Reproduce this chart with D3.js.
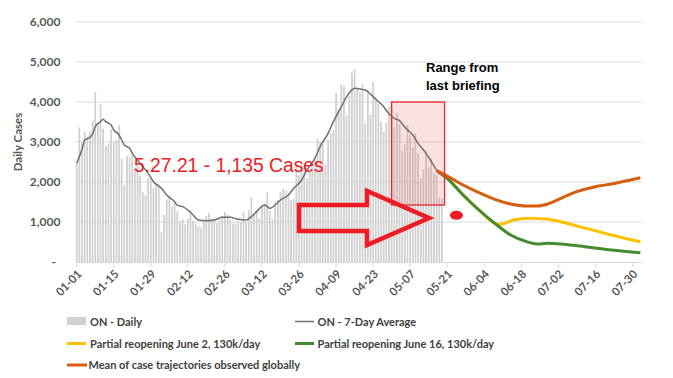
<!DOCTYPE html>
<html><head><meta charset="utf-8">
<script src="https://cdn.jsdelivr.net/npm/d3@7"></script>
<style>
html,body{margin:0;padding:0;background:#fff;}
svg{display:block;font-family:Lato,"Liberation Sans",sans-serif;}
</style></head>
<body>
<svg id="chart" width="673" height="378"></svg>
<script>
// ---------------- DATA ----------------
const startDate = "2021-01-01";
const dailyCases = [
 2476,3363,2964,3270,3128,3266,3519,4249,3443,3945,3338,2903,2961,3326,2998,3056,3422,2578,1913,2655,2632,2662,2359,2417,2154,1740,1670,2093,2063,1848,1969,
 1958,745,1172,1563,1670,1388,1489,1265,1022,1072,945,1076,1300,1041,964,904,847,1038,1150,1228,1087,1058,975,1054,1138,1258,1185,1062,
 966,958,1023,994,1250,990,1299,1631,1185,1316,1092,1371,1468,1747,1268,1074,1508,1553,1745,1829,1791,1699,1546,1571,2380,2169,2453,2448,2094,2336,2333,
 2557,3089,3009,2938,2448,3065,3215,3295,4227,3813,4456,4401,3670,4156,4736,4812,4362,4250,4447,3469,4212,3682,4505,4094,3947,3510,3265,3480,3871,3887,
 3369,3732,3436,2791,2941,3424,3166,2864,3216,2716,2073,2320,2759,2362,2584,2199,2170,1616,1588
];
// 7-day average
const avgDates = ["2021-01-01","2021-01-03","2021-01-04","2021-01-06","2021-01-07","2021-01-08","2021-01-10","2021-01-11","2021-01-12","2021-01-14","2021-01-15","2021-01-17","2021-01-18","2021-01-19","2021-01-21","2021-01-22","2021-01-24","2021-01-26","2021-01-28","2021-01-30","2021-02-02","2021-02-04","2021-02-07","2021-02-08","2021-02-10","2021-02-12","2021-02-14","2021-02-16","2021-02-19","2021-02-22","2021-02-25","2021-02-28","2021-03-03","2021-03-06","2021-03-08","2021-03-10","2021-03-13","2021-03-15","2021-03-17","2021-03-19","2021-03-22","2021-03-24","2021-03-27","2021-03-29","2021-04-01","2021-04-03","2021-04-06","2021-04-08","2021-04-11","2021-04-13","2021-04-16","2021-04-18","2021-04-20","2021-04-23","2021-04-25","2021-04-27","2021-04-28","2021-05-01","2021-05-03","2021-05-05","2021-05-08","2021-05-10","2021-05-13","2021-05-15","2021-05-17"];
const avgValues = [2467,2817,3050,3117,3200,3383,3508,3567,3508,3425,3300,3175,3050,2925,2842,2717,2550,2383,2217,2008,1842,1675,1508,1420,1383,1300,1175,1050,1030,1050,1117,1117,1067,1050,1133,1258,1425,1342,1425,1550,1675,1842,2050,2300,2592,2883,3217,3508,3883,4133,4342,4325,4300,4133,4008,3883,3783,3592,3533,3367,3175,2967,2717,2508,2290];
// projections
const meanDates = ["2021-05-17","2021-05-21","2021-05-27","2021-06-02","2021-06-08","2021-06-14","2021-06-20","2021-06-24","2021-06-28","2021-07-03","2021-07-09","2021-07-16","2021-07-22","2021-07-28","2021-08-02"];
const meanValues = [2283,2150,1925,1733,1567,1450,1400,1400,1450,1592,1758,1883,1950,2033,2108];
const june16Dates = ["2021-05-17","2021-05-21","2021-05-27","2021-06-02","2021-06-08","2021-06-14","2021-06-20","2021-06-24","2021-06-28","2021-07-04","2021-07-12","2021-07-22","2021-08-02"];
const june16Values = [2283,2092,1675,1300,967,675,508,450,467,442,383,300,233];
const june2Dates = ["2021-05-17","2021-05-21","2021-05-27","2021-06-02","2021-06-08","2021-06-10","2021-06-15","2021-06-21","2021-06-27","2021-07-03","2021-07-09","2021-07-16","2021-07-22","2021-08-02"];
const june2Values = [2283,2092,1675,1300,967,942,1050,1092,1075,1008,900,783,675,508];

const yTicks = [0,1000,2000,3000,4000,5000,6000];
const yTickLabels = ["-","1,000","2,000","3,000","4,000","5,000","6,000"];
const xTickLabels = ["01-01","01-15","01-29","02-12","02-26","03-12","03-26","04-09","04-23","05-07","05-21","06-04","06-18","07-02","07-16","07-30"];

const legendLabels = ["ON - Daily","ON - 7-Day Average","Partial reopening June 2, 130k/day","Partial reopening June 16, 130k/day","Mean of case trajectories observed globally"];
const colors = {bar:"#d0d0d0", avg:"#6f6f6f", june2:"#ffc000", june16:"#448a2f", mean:"#d65c0e"};

// annotations (in data units)
const rangeBox = {from:"2021-04-30", to:"2021-05-20", top:4000, bottom:1425};
const annotationText = "5.27.21 - 1,135 Cases";
const markerPoint = {date:"2021-05-24T12:00", value:1170};

// ---------------- CHART ----------------
const parse = d3.utcParse("%Y-%m-%d");
const parseT = d3.utcParse("%Y-%m-%dT%H:%M");
const svg = d3.select("#chart");
const x = d3.scaleUtc().domain([parse("2021-01-01"), parseT("2021-08-02T12:00")]).range([76.7, 641.7]);
const y = d3.scaleLinear().domain([0, 6000]).range([262, 22]);
const t0 = parse(startDate);
const daily = dailyCases.map((v,i)=>({date:d3.utcDay.offset(t0,i), value:v}));
const pts = (ds,vs)=>ds.map((d,i)=>({date:parse(d), value:vs[i]}));

// gridlines
svg.append("g").selectAll("line").data(yTicks.slice(1)).join("line")
  .attr("x1",76).attr("x2",641.7).attr("y1",d=>y(d)).attr("y2",d=>y(d))
  .attr("stroke","#d9d9d9").attr("stroke-width",1);

// y labels
svg.append("g").selectAll("text").data(yTicks).join("text")
  .attr("x",(d,i)=>i===0?56:60.5).attr("y",d=>y(d)).attr("dy","0.35em")
  .attr("text-anchor","end").attr("font-size",12).attr("font-weight",700)
  .attr("fill","#595959").text((d,i)=>yTickLabels[i]);
svg.append("text").attr("transform","translate(22,142) rotate(-90)")
  .attr("text-anchor","middle").attr("font-size",11.5).attr("font-weight",700)
  .attr("fill","#595959").text("Daily Cases");

// bars
const bw = 1.75;
svg.append("g").selectAll("rect").data(daily).join("rect")
  .attr("x",d=>x(d.date)-bw/2).attr("width",bw)
  .attr("y",d=>y(d.value)).attr("height",d=>y(0)-y(d.value))
  .attr("fill",colors.bar);

// x axis
const xTickDates = xTickLabels.map(s=>parse("2021-"+s));
const xa = svg.append("g");
xa.append("line").attr("x1",76).attr("x2",641.7).attr("y1",262.5).attr("y2",262.5).attr("stroke","#d9d9d9");
xa.selectAll("line.tk").data(xTickDates).join("line").attr("class","tk")
  .attr("x1",d=>x(d)).attr("x2",d=>x(d)).attr("y1",262).attr("y2",267).attr("stroke","#d9d9d9");
xa.selectAll("text").data(xTickDates).join("text")
  .attr("transform",d=>`translate(${x(d)+3},${272}) rotate(-45)`)
  .attr("text-anchor","end").attr("font-size",11.5).attr("font-weight",700)
  .attr("fill","#595959").attr("dy","0.35em").text((d,i)=>xTickLabels[i]);

// lines
const line = d3.line().x(d=>x(d.date)).y(d=>y(d.value)).curve(d3.curveMonotoneX);
svg.append("path").attr("d",line(pts(avgDates,avgValues))).attr("fill","none")
  .attr("stroke",colors.avg).attr("stroke-width",1.5);
svg.append("path").attr("d",line(pts(june2Dates,june2Values))).attr("fill","none")
  .attr("stroke",colors.june2).attr("stroke-width",3);
svg.append("path").attr("d",line(pts(june16Dates,june16Values))).attr("fill","none")
  .attr("stroke",colors.june16).attr("stroke-width",3);
svg.append("path").attr("d",line(pts(meanDates,meanValues))).attr("fill","none")
  .attr("stroke",colors.mean).attr("stroke-width",3);

// range box
const bx0 = x(parse(rangeBox.from)), bx1 = x(parse(rangeBox.to));
svg.append("rect").attr("x",bx0).attr("y",y(rangeBox.top)).attr("width",bx1-bx0)
  .attr("height",y(rangeBox.bottom)-y(rangeBox.top))
  .attr("fill","rgba(240,80,80,0.17)").attr("stroke","#e8262b").attr("stroke-width",1.3);
svg.append("text").attr("x",426).attr("y",72).attr("font-family","'Liberation Sans',Arial,sans-serif")
  .attr("font-size",13).attr("font-weight",700).attr("fill","#000").text("Range from");
svg.append("text").attr("x",426).attr("y",90).attr("font-family","'Liberation Sans',Arial,sans-serif")
  .attr("font-size",13).attr("font-weight",700).attr("fill","#000").text("last briefing");

// arrow
const arrow = [[299,205],[367,205],[367,191],[429,218],[367,245],[367,231],[299,231]];
svg.append("path").attr("d","M"+arrow.map(p=>p.join(",")).join("L")+"Z")
  .attr("fill","none").attr("stroke","#ee1c25").attr("stroke-width",4.5).attr("stroke-linejoin","miter");

// marker dot
svg.append("ellipse").attr("cx",x(parseT(markerPoint.date))).attr("cy",y(markerPoint.value))
  .attr("rx",6.5).attr("ry",4.5).attr("fill","#ee1c25");

// annotation text
svg.append("text").attr("x",134).attr("y",171.5).attr("font-family","'Liberation Sans',Arial,sans-serif")
  .attr("font-size",19.3).attr("fill","#ee1c25").text(annotationText);

// legend
const lg = svg.append("g").attr("font-size",11).attr("font-weight",700).attr("fill","#404040");
lg.append("rect").attr("x",67).attr("y",317).attr("width",19).attr("height",8).attr("fill",colors.bar);
lg.append("text").attr("x",90).attr("y",325.5).text(legendLabels[0]);
lg.append("line").attr("x1",295).attr("x2",314).attr("y1",321.5).attr("y2",321.5).attr("stroke",colors.avg).attr("stroke-width",1.5);
lg.append("text").attr("x",317.5).attr("y",325.5).text(legendLabels[1]);
lg.append("line").attr("x1",67).attr("x2",86).attr("y1",343.5).attr("y2",343.5).attr("stroke",colors.june2).attr("stroke-width",3);
lg.append("text").attr("x",90).attr("y",347.5).text(legendLabels[2]);
lg.append("line").attr("x1",295).attr("x2",314).attr("y1",343.5).attr("y2",343.5).attr("stroke",colors.june16).attr("stroke-width",3);
lg.append("text").attr("x",317.5).attr("y",347.5).text(legendLabels[3]);
lg.append("line").attr("x1",67).attr("x2",87).attr("y1",365).attr("y2",365).attr("stroke",colors.mean).attr("stroke-width",3);
lg.append("text").attr("x",88.5).attr("y",369).text(legendLabels[4]);
</script>
</body></html>
